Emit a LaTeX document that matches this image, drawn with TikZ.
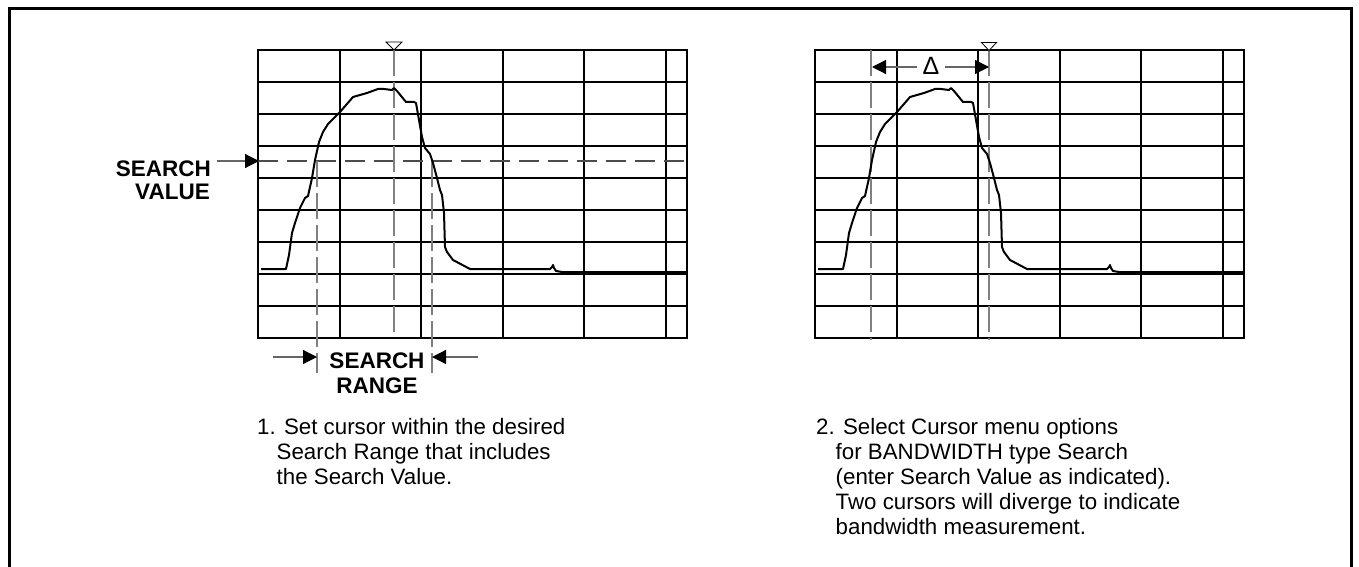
\documentclass[tikz,border=0pt]{standalone}
\usepackage{fontspec}
\setmainfont{Liberation Sans}
\usetikzlibrary{arrows.meta}
\begin{document}
\begin{tikzpicture}[x=1pt,y=-1pt,
  gridline/.style={line width=2pt, black},
  trace/.style={line width=2pt, black, line join=round},
  cursorline/.style={line width=2pt, black!50, dash pattern=on 26pt off 6pt},
  levelline/.style={line width=1.4pt, black!70, dash pattern=on 20pt off 9pt},
  lead/.style={line width=1.2pt, black!60, -{Triangle[length=14pt,width=14pt,color=black]}},
  boldlabel/.style={font=\bfseries\fontsize{22.5}{24}\selectfont, inner sep=0pt},
  note/.style={font=\fontsize{22.3}{25}\selectfont, inner sep=0pt, anchor=base west},
  marker/.style={draw=black, line width=0.8pt, fill=white}
]
\useasboundingbox (0,0) rectangle (1359,567);
% outer frame
\draw[line width=3pt] (9.5,567) -- (9.5,8.5) -- (1351.5,8.5) -- (1351.5,567);

% two display panels
\foreach \ox in {0,557}{
\begin{scope}[xshift=\ox]
  \draw[gridline] (258,50) rectangle (687,338);
  \foreach \i in {1,...,5} \draw[gridline] (258+\i*81.5,50) -- (258+\i*81.5,338);
  \foreach \j in {1,...,8} \draw[gridline] (258,50+\j*32) -- (687,50+\j*32);
\end{scope}
}

% left panel: search value level and cursors
\draw[levelline] (258,161) -- (687,161);
\draw[cursorline] (317,161) -- (317,373);
\draw[cursorline] (394,50) -- (394,338);
\draw[cursorline] (432,161) -- (432,373);
\draw[marker] (386,42) -- (402,42) -- (394,50) -- cycle;

% right panel cursors
\draw[cursorline] (871,50) -- (871,340);
\draw[cursorline] (989,50) -- (989,340);
\draw[marker] (981.5,42.5) -- (996.5,42.5) -- (989,50.5) -- cycle;

% traces
\foreach \ox in {0,557}{
\begin{scope}[xshift=\ox]
  \draw[trace] (261,269) -- (286,269) -- (289,255) -- (292,233) -- (295,223) -- (300,208)
    -- (305,198) -- (308,196) -- (310,187) -- (312,178) -- (315,160) -- (319,142)
    -- (323,132) -- (328,124) -- (340,112) -- (353,97) -- (367,93) -- (378,89)
    -- (384,89) -- (392,90) -- (394,88) -- (397,91) -- (406,102) -- (414,102)
    -- (416,103) -- (422,137) -- (425,148) -- (430,154) -- (433,163) -- (437,178)
    -- (440,190) -- (442,195) -- (444,213) -- (445,247) -- (447,252) -- (453,260)
    -- (470,269) -- (550,269) -- (552,267) -- (553,265) -- (554,268) -- (556,271)
    -- (562,272) -- (687,272);
\end{scope}
}

% SEARCH VALUE label and arrow
\node[boldlabel, anchor=base east] (sv1) at (211,176) {SEARCH};
\node[boldlabel, anchor=base east] (sv2) at (210,199) {VALUE};
\coordinate (svtail) at (217,161);
\coordinate (svtip) at (259,161);
\draw[lead] (svtail) -- (svtip);

% SEARCH RANGE label and arrows
\node[boldlabel, anchor=base] (sr1) at (377,368) {SEARCH};
\node[boldlabel, anchor=base] (sr2) at (377,393) {RANGE};
\coordinate (srltail) at (273,357);
\coordinate (srltip) at (317,357);
\coordinate (srrtail) at (478,357);
\coordinate (srrtip) at (432,357);
\draw[lead] (srltail) -- (srltip);
\draw[lead] (srrtail) -- (srrtip);

% Delta arrows in right panel
\node[font=\fontsize{25}{25}\selectfont, inner sep=0pt, anchor=base] (delta) at (931,74.5) {Δ};
\coordinate (dltail) at (917,67);
\coordinate (dltip) at (872,67);
\coordinate (drtail) at (945,67);
\coordinate (drtip) at (989,67);
\draw[lead] (dltail) -- (dltip);
\draw[lead] (drtail) -- (drtip);

% notes
\node[note] (n1a) at (257,434) {1. Set cursor within the desired};
\node[note] (n1b) at (276.5,459) {Search Range that includes};
\node[note] (n1c) at (276.5,484) {the Search Value.};

\node[note] (n2a) at (816,434) {2. Select Cursor menu options};
\node[note] (n2b) at (835.5,459) {for BANDWIDTH type Search};
\node[note] (n2c) at (835.5,484) {(enter Search Value as indicated).};
\node[note] (n2d) at (835.5,509) {Two cursors will diverge to indicate};
\node[note] (n2e) at (835.5,534) {bandwidth measurement.};
\end{tikzpicture}
\end{document}
